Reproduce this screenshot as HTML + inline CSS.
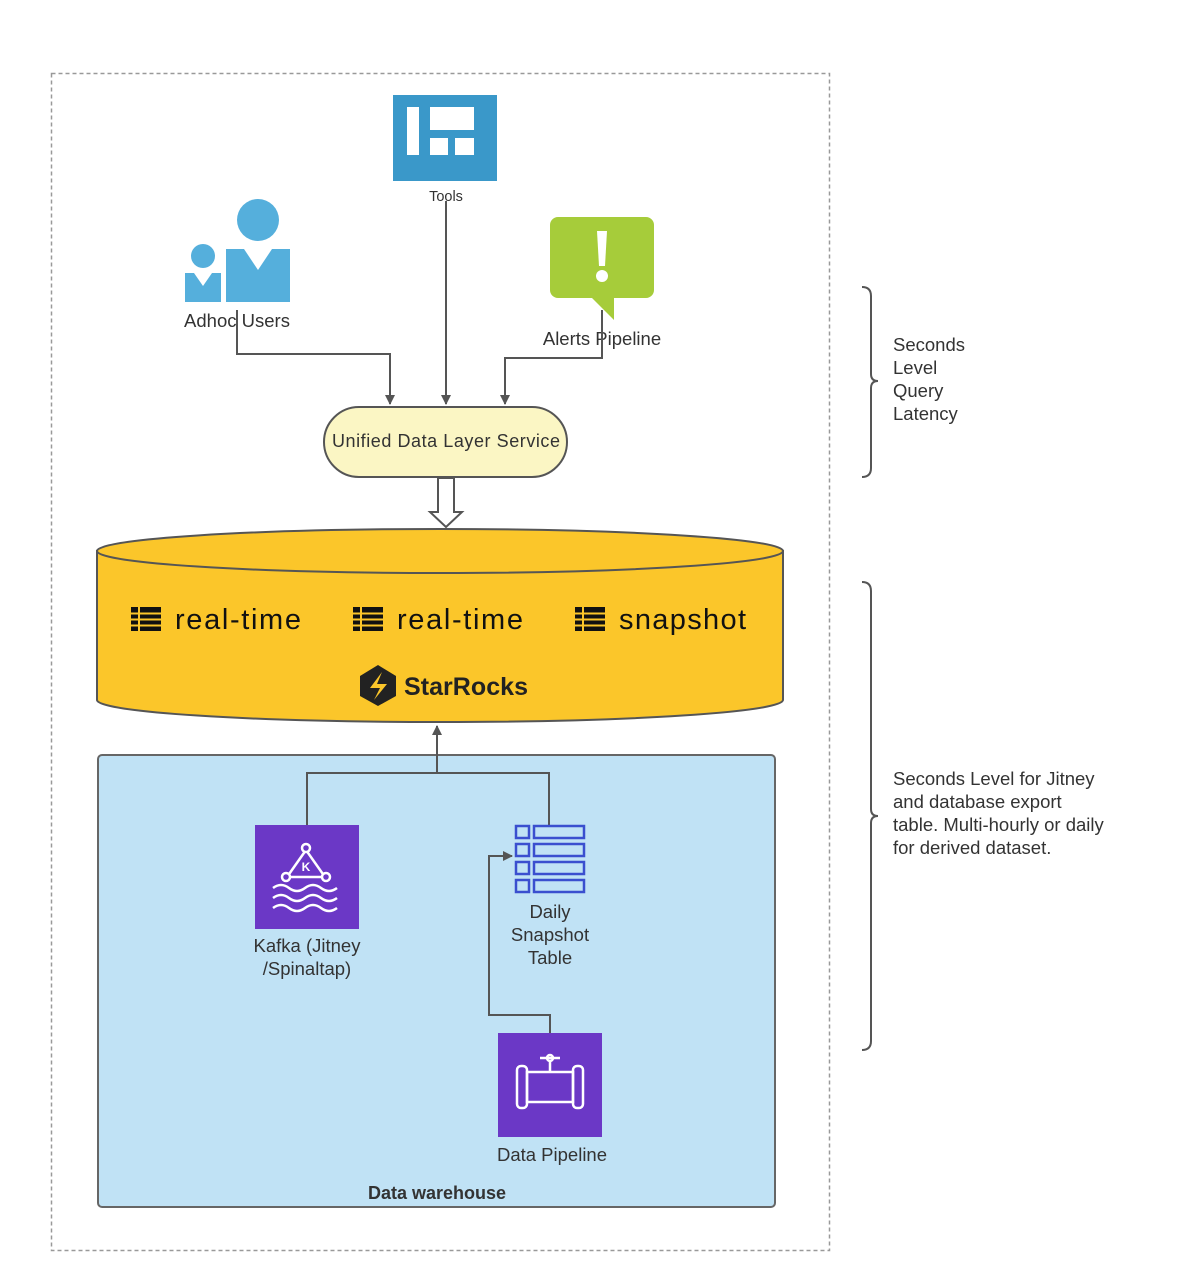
<!DOCTYPE html>
<html><head><meta charset="utf-8"><style>
html,body{margin:0;padding:0;background:#fff;width:1204px;height:1280px;overflow:hidden}
svg{display:block}
text{font-family:"Liberation Sans",Arial,sans-serif;fill:#333}
</style></head><body>
<svg width="1204" height="1280" viewBox="0 0 1204 1280" xmlns="http://www.w3.org/2000/svg">
<defs>
<marker id="ah" markerWidth="10" markerHeight="10" refX="9" refY="5" orient="auto" markerUnits="userSpaceOnUse">
<path d="M0,0 L10,5 L0,10 z" fill="#555"/></marker>
</defs>
<rect x="51.5" y="73.5" width="778" height="1177" fill="none" stroke="#999" stroke-width="1.5" stroke-dasharray="4,3"/>

<!-- Tools -->
<rect x="393" y="95" width="104" height="86" fill="#3a98c9"/>
<rect x="407" y="107" width="12" height="48" fill="#fff"/>
<rect x="430" y="107" width="44" height="23" fill="#fff"/>
<rect x="430" y="138" width="18" height="17" fill="#fff"/>
<rect x="455" y="138" width="19" height="17" fill="#fff"/>
<text x="446" y="201" font-size="14.5" text-anchor="middle">Tools</text>

<!-- Users -->
<circle cx="203" cy="256" r="12" fill="#55afdc"/>
<path d="M185,273 L194,273 L203,286 L212,273 L221,273 L221,302 L185,302 z" fill="#55afdc"/>
<circle cx="258" cy="220" r="21" fill="#55afdc"/>
<path d="M226,249 L244,249 L258,270 L272,249 L290,249 L290,302 L226,302 z" fill="#55afdc"/>
<text x="237" y="327" font-size="18.5" text-anchor="middle">Adhoc Users</text>

<!-- Alert -->
<rect x="550" y="217" width="104" height="81" rx="8" fill="#a6cc3a"/>
<path d="M590,296 L614,296 L614,320 z" fill="#a6cc3a"/>
<path d="M597,231 L607,231 L605,266 L599,266 z" fill="#fff"/>
<circle cx="602" cy="276" r="6" fill="#fff"/>
<text x="602" y="345" font-size="18.5" text-anchor="middle">Alerts Pipeline</text>

<!-- connectors top -->
<g fill="none" stroke="#555" stroke-width="2">
<path d="M237,310 L237,354 L390,354 L390,404" marker-end="url(#ah)"/>
<path d="M446,201 L446,404" marker-end="url(#ah)"/>
<path d="M602,310 L602,358 L505,358 L505,404" marker-end="url(#ah)"/>
</g>

<!-- UDL -->
<rect x="324" y="407" width="243" height="70" rx="35" fill="#fbf6c4" stroke="#555" stroke-width="2"/>
<text x="446" y="447" font-size="18" text-anchor="middle" textLength="228">Unified Data Layer Service</text>
<path d="M438,478 L454,478 L454,512 L462,512 L446,527 L430,512 L438,512 z" fill="#fff" stroke="#555" stroke-width="2"/>

<!-- Cylinder -->
<path d="M97,551 L97,700 A343,22 0 0 0 783,700 L783,551 z" fill="#fbc62a" stroke="#555" stroke-width="2"/>
<ellipse cx="440" cy="551" rx="343" ry="22" fill="#fbc62a" stroke="#555" stroke-width="2"/>
<g fill="#111">
<g transform="translate(131,607)"><rect width="30" height="24"/></g>
<g transform="translate(353,607)"><rect width="30" height="24"/></g>
<g transform="translate(575,607)"><rect width="30" height="24"/></g>
</g>
<g fill="#fbc62a">
<g transform="translate(131,607)"><rect x="7" y="0" width="2" height="24"/><rect y="5.5" width="30" height="2"/><rect y="11.5" width="30" height="2"/><rect y="17.5" width="30" height="2"/></g>
<g transform="translate(353,607)"><rect x="7" y="0" width="2" height="24"/><rect y="5.5" width="30" height="2"/><rect y="11.5" width="30" height="2"/><rect y="17.5" width="30" height="2"/></g>
<g transform="translate(575,607)"><rect x="7" y="0" width="2" height="24"/><rect y="5.5" width="30" height="2"/><rect y="11.5" width="30" height="2"/><rect y="17.5" width="30" height="2"/></g>
</g>
<text x="175" y="629" font-size="29" style="fill:#111" textLength="126">real-time</text>
<text x="397" y="629" font-size="29" style="fill:#111" textLength="126">real-time</text>
<text x="619" y="629" font-size="29" style="fill:#111" textLength="127">snapshot</text>
<path d="M378,665 L396,676 L396,696 L378,706 L360,696 L360,676 z" fill="#222"/>
<path d="M382,672 L370,688 L380,688 L374,700 L387,684 L377,684 z" fill="#fbc62a"/>
<text x="404" y="695" font-size="25" font-weight="bold" style="fill:#222" textLength="124">StarRocks</text>

<!-- DW box -->
<rect x="98" y="755" width="677" height="452" rx="4" fill="#c0e2f5" stroke="#666" stroke-width="2"/>
<text x="437" y="1199" font-size="18" font-weight="bold" text-anchor="middle">Data warehouse</text>
<g fill="none" stroke="#555" stroke-width="2">
<path d="M437,772 L437,726" marker-end="url(#ah)"/>
<path d="M307,825 L307,773 L549,773 L549,825"/>
<path d="M550,1033 L550,1015 L489,1015 L489,856 L512,856" marker-end="url(#ah)"/>
</g>

<!-- Kafka -->
<rect x="255" y="825" width="104" height="104" fill="#6b38c6"/>
<g fill="none" stroke="#fff" stroke-width="2.5">
<path d="M306,850 L287,877 L325,877 z"/>
<circle cx="306" cy="848" r="4" fill="#6b38c6"/><circle cx="286" cy="877" r="4" fill="#6b38c6"/><circle cx="326" cy="877" r="4" fill="#6b38c6"/>
<path d="M273,888 q8,-6 16,0 t16,0 t16,0 t16,0"/>
<path d="M273,898 q8,-6 16,0 t16,0 t16,0 t16,0"/>
<path d="M273,908 q8,-6 16,0 t16,0 t16,0 t16,0"/>
</g>
<text x="306" y="871" font-size="12" font-weight="bold" text-anchor="middle" style="fill:#fff">K</text>
<text x="307" y="952" font-size="18.5" text-anchor="middle">Kafka (Jitney</text>
<text x="307" y="975" font-size="18.5" text-anchor="middle">/Spinaltap)</text>

<!-- table icon -->
<g fill="none" stroke="#3a4fcf" stroke-width="2.5">
<rect x="516" y="826" width="13" height="12"/><rect x="534" y="826" width="50" height="12"/>
<rect x="516" y="844" width="13" height="12"/><rect x="534" y="844" width="50" height="12"/>
<rect x="516" y="862" width="13" height="12"/><rect x="534" y="862" width="50" height="12"/>
<rect x="516" y="880" width="13" height="12"/><rect x="534" y="880" width="50" height="12"/>
</g>
<text x="550" y="918" font-size="18.5" text-anchor="middle">Daily</text>
<text x="550" y="941" font-size="18.5" text-anchor="middle">Snapshot</text>
<text x="550" y="964" font-size="18.5" text-anchor="middle">Table</text>

<!-- Data pipeline -->
<rect x="498" y="1033" width="104" height="104" fill="#6b38c6"/>
<g fill="none" stroke="#fff" stroke-width="2.5">
<rect x="527" y="1072" width="46" height="30"/>
<rect x="517" y="1066" width="10" height="42" rx="4"/>
<rect x="573" y="1066" width="10" height="42" rx="4"/>
<path d="M550,1072 L550,1062 M540,1058 L560,1058"/>
<circle cx="550" cy="1058" r="3"/>
</g>
<text x="552" y="1161" font-size="18.5" text-anchor="middle">Data Pipeline</text>

<!-- braces -->
<g fill="none" stroke="#555" stroke-width="2">
<path d="M862,287 Q871,287 871,296 L871,374 Q871,381 878,381 Q871,381 871,388 L871,468 Q871,477 862,477"/>
<path d="M862,582 Q871,582 871,591 L871,809 Q871,816 878,816 Q871,816 871,823 L871,1041 Q871,1050 862,1050"/>
</g>
<g font-size="18.5">
<text x="893" y="351">Seconds</text>
<text x="893" y="374">Level</text>
<text x="893" y="397">Query</text>
<text x="893" y="420">Latency</text>
<text x="893" y="785">Seconds Level for Jitney</text>
<text x="893" y="808">and database export</text>
<text x="893" y="831">table. Multi-hourly or daily</text>
<text x="893" y="854">for derived dataset.</text>
</g>
</svg>
</body></html>
